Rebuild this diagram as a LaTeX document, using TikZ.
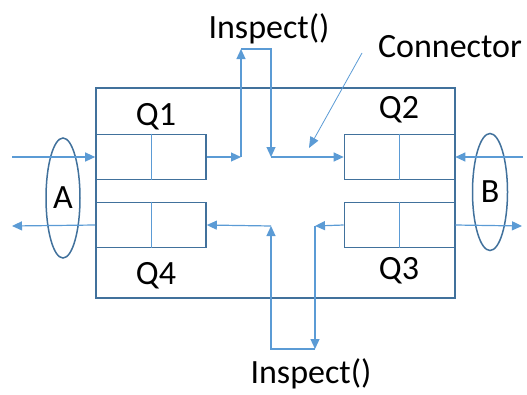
\documentclass[tikz,border=0pt]{standalone}
\usepackage{fontspec}
\setmainfont{Carlito}
\usetikzlibrary{arrows.meta,shapes.geometric}
\definecolor{frameblue}{HTML}{41719C}
\definecolor{flowblue}{HTML}{5B9BD5}
\begin{document}
\begin{tikzpicture}[x=1pt,y=-1pt,
  outerbox/.style={draw=frameblue,line width=1.6pt,minimum width=359pt,minimum height=210pt,inner sep=0pt},
  queue/.style={draw=frameblue,line width=1.6pt,minimum width=110pt,minimum height=45pt,inner sep=0pt},
  slot/.style={draw=flowblue,line width=0.9pt},
  flow/.style={draw=flowblue,line width=1.2pt,-{Triangle[length=10pt,width=9pt]}},
  pointer/.style={draw=flowblue,line width=0.8pt,-{Triangle[length=11pt,width=9pt]}},
  port/.style={ellipse,draw=frameblue,line width=1.5pt,inner sep=0pt},
  lbl/.style={font=\fontsize{34}{40}\selectfont,inner sep=0pt}]
\useasboundingbox (0,0) rectangle (527,394);

% outer frame and the four queues
\node[outerbox] (frame) at (275.5,193) {};
\node[queue] (q1) at (151,157) {};
\node[queue] (q4) at (151,225) {};
\node[queue] (q2) at (399.5,157) {};
\node[queue] (q3) at (399.5,225) {};
\foreach \q in {q1,q2,q3,q4} \draw[slot] (\q.north) -- (\q.south);

% queue labels
\node[lbl] (l1) at (156,117) {Q1};
\node[lbl] (l2) at (399,110) {Q2};
\node[lbl] (l3) at (399,271) {Q3};
\node[lbl] (l4) at (156,276) {Q4};
\node[lbl] (insT) at (269,29) {Inspect()};
\node[lbl] (insB) at (311,374) {Inspect()};
\node[lbl] (conn) at (450,47) {Connector};

% ports
\node[port,minimum width=34pt,minimum height=120pt] (pa) at (63,198) {};
\node[lbl] at (pa.center) {A};
\node[port,minimum width=35pt,minimum height=117pt] (pb) at (490,192) {};
\node[lbl] at (pb.center) {B};

% routing points
\coordinate (inL) at (12,157);
\coordinate (outL) at (12,226);
\coordinate (inR) at (523,157);
\coordinate (outR) at (522,226);
\coordinate (j1) at (241,157);
\coordinate (t1) at (241,49);
\coordinate (t2) at (271,49);
\coordinate (j2) at (271,157);
\coordinate (j3) at (315,226);
\coordinate (b1) at (315,349);
\coordinate (b2) at (271,349);
\coordinate (j4) at (271,226);
\coordinate (cs) at (362,53);
\coordinate (ce) at (309,148);

% upper path: A -> Q1 -> inspect -> Q2 <- B
\draw[flow] (inL) -- (q1.west);
\draw[flow] (q1.east) -- (j1);
\draw[flow] (j1) -- (t1);
\draw[flow] (t1) -- (t2) -- (j2);
\draw[flow] (j2) -- (q2.west);
\draw[flow] (inR) -- (q2.east);

% lower path: B <- Q3 -> inspect -> Q4 -> A
\draw[flow] (q3.east) -- (outR);
\draw[flow] (q3.west) -- (j3);
\draw[flow] (j3) -- (b1);
\draw[flow] (b1) -- (b2) -- (j4);
\draw[flow] (j4) -- (q4.east);
\draw[flow] (q4.west) -- (outL);

% connector callout
\draw[pointer] (cs) -- (ce);
\end{tikzpicture}
\end{document}
